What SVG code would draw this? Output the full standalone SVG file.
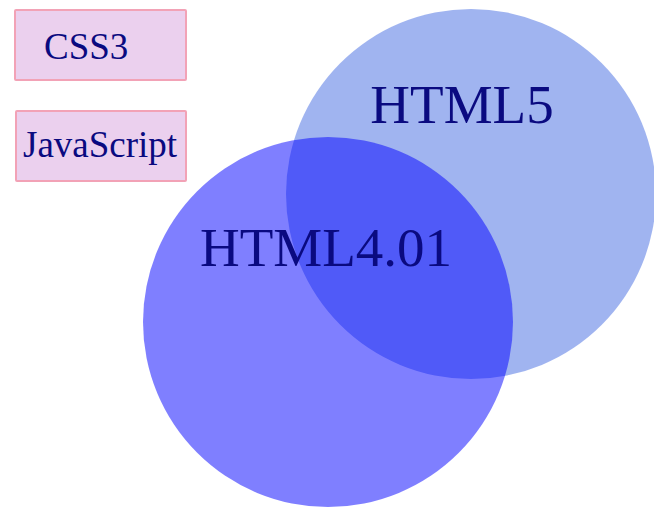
<svg xmlns="http://www.w3.org/2000/svg" width="654" height="508" viewBox="0 0 654 508">
  <style>
    .box { fill: #ebd0ee; stroke: #f2a2b6; stroke-width: 2; }
    .label { font-family: "Liberation Serif", "Times New Roman", serif; fill: #0a0a80; }
    .small { font-size: 37px; }
    .big { font-size: 55px; text-anchor: middle; }
  </style>
  <rect width="654" height="508" fill="#ffffff"/>

  <!-- Venn circles -->
  <g id="html5">
    <circle cx="471" cy="194" r="185" fill="#4169e1" fill-opacity="0.5"/>
  </g>
  <g id="html401">
    <circle cx="328" cy="322" r="185" fill="#0000ff" fill-opacity="0.5"/>
  </g>
  <text class="label big" x="462" y="123">HTML5</text>
  <text class="label big" x="326" y="266">HTML4.01</text>

  <!-- Technology boxes -->
  <g id="css3">
    <rect class="box" x="15" y="10" width="171" height="70" rx="1"/>
    <text class="label small" x="44" y="59">CSS3</text>
  </g>
  <g id="javascript">
    <rect class="box" x="16" y="111" width="170" height="70" rx="1"/>
    <text class="label small" x="23" y="157">JavaScript</text>
  </g>
</svg>
